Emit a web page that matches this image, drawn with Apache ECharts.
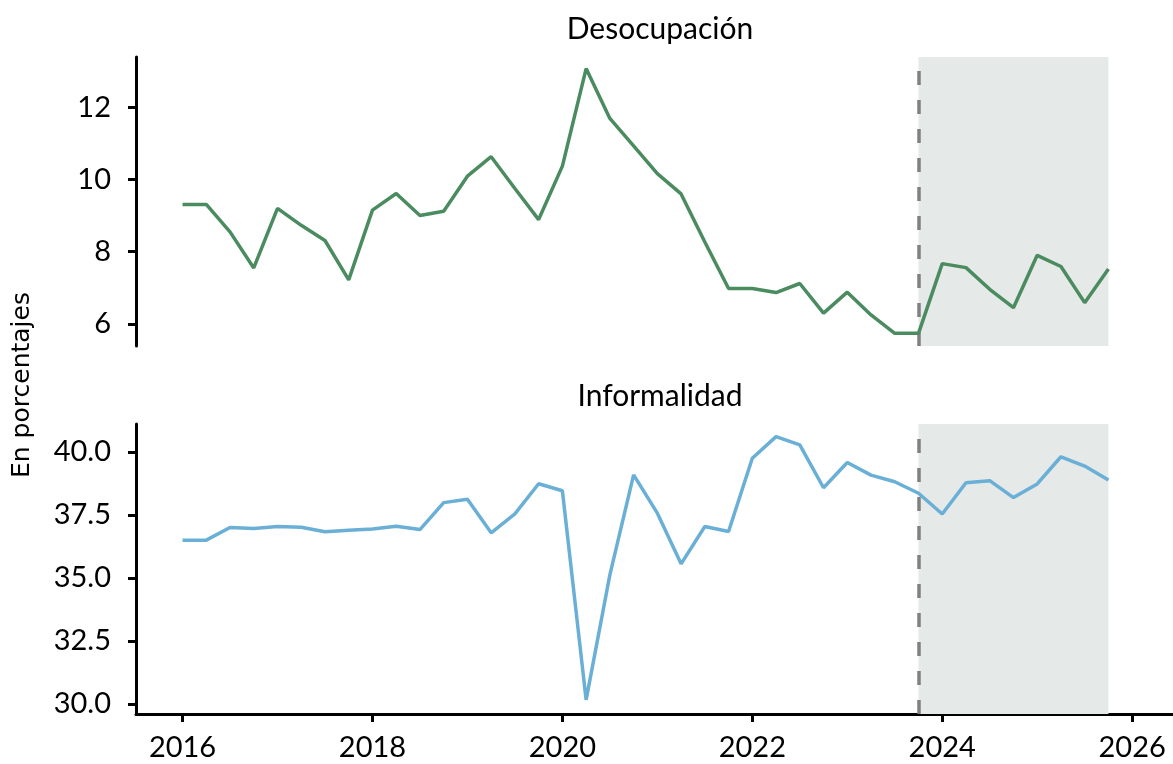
<!DOCTYPE html>
<html>
<head>
<meta charset="utf-8">
<script src="https://cdn.jsdelivr.net/npm/echarts@6.0.0/dist/echarts.min.js"></script>
<style>
html,body{margin:0;padding:0;background:#fff;}
#chart{width:1173px;height:764px;}
</style>
</head>
<body>
<div id="chart"></div>
<script>
// Quarterly periods (decimal years)
const periods = [2016.00,2016.25,2016.50,2016.75,2017.00,2017.25,2017.50,2017.75,
  2018.00,2018.25,2018.50,2018.75,2019.00,2019.25,2019.50,2019.75,
  2020.00,2020.25,2020.50,2020.75,2021.00,2021.25,2021.50,2021.75,
  2022.00,2022.25,2022.50,2022.75,2023.00,2023.25,2023.50,2023.75,
  2024.00,2024.25,2024.50,2024.75,2025.00,2025.25,2025.50,2025.75];

const desocupacion = [9.31,9.31,8.55,7.55,9.20,8.73,8.31,7.22,
  9.15,9.61,9.00,9.12,10.09,10.63,9.75,8.89,
  10.37,13.07,11.69,10.93,10.16,9.60,8.27,6.98,
  6.98,6.87,7.12,6.30,6.88,6.25,5.74,5.74,
  7.67,7.56,6.96,6.45,7.90,7.59,6.59,7.52];

const informalidad = [36.50,36.50,37.00,36.96,37.04,37.01,36.83,36.89,
  36.94,37.05,36.92,37.99,38.12,36.79,37.54,38.74,
  38.46,30.16,35.12,39.09,37.57,35.56,37.04,36.84,
  39.75,40.61,40.28,38.58,39.58,39.08,38.82,38.36,
  37.54,38.78,38.86,38.19,38.73,39.81,39.44,38.89];

const xTicks = [2016,2018,2020,2022,2024,2026];
const yTicksTop = [6,8,10,12];
const yTicksBottom = [30,32.5,35,37.5,40];
const forecastStart = 2023.75;
const forecastEnd = 2025.75;
const titles = ['Desocupación','Informalidad'];
const yAxisTitle = 'En porcentajes';

const FONT = 'Lato';
const chart = echarts.init(document.getElementById('chart'), null, {renderer:'canvas'});

function pairs(vals){ return periods.map((p,i)=>[p, vals[i]]); }

const axisLineStyle = {show:true, lineStyle:{color:'#000', width:3}};
const tickStyle = {show:true, length:8, lineStyle:{color:'#000', width:3}};

function marks(){
  return {
    markArea:{silent:true, itemStyle:{color:'#e5e9e8'}, data:[[{xAxis:forecastStart},{xAxis:forecastEnd}]]},
    markLine:{silent:true, symbol:'none', label:{show:false},
      lineStyle:{color:'#808080', width:3.5, type:[14,15]},
      emphasis:{disabled:true},
      data:[{xAxis:forecastStart}]}
  };
}

const option = {
  animation:false,
  backgroundColor:'#fff',
  grid:[
    {left:136, right:0, top:57, height:289},
    {left:136, right:0, top:424, height:290}
  ],
  xAxis:[
    {gridIndex:0, type:'value', min:2015.51, max:2026.43,
     axisLine:{show:false}, axisTick:{show:false}, axisLabel:{show:false}, splitLine:{show:false}},
    {gridIndex:1, type:'value', min:2015.51, max:2026.43,
     axisLine:axisLineStyle,
     axisTick:Object.assign({customValues:xTicks}, tickStyle),
     axisLabel:{customValues:xTicks, margin:19, fontFamily:FONT, fontSize:29, color:'#000',
       formatter:v=>String(v)},
     splitLine:{show:false}}
  ],
  yAxis:[
    {gridIndex:0, type:'value', min:5.39, max:13.39,
     axisLine:axisLineStyle,
     axisTick:Object.assign({customValues:yTicksTop}, tickStyle),
     axisLabel:{customValues:yTicksTop, margin:25, fontFamily:FONT, fontSize:29, color:'#000',
       formatter:v=>String(v)},
     splitLine:{show:false}},
    {gridIndex:1, type:'value', min:29.60, max:41.11,
     axisLine:axisLineStyle,
     axisTick:Object.assign({customValues:yTicksBottom}, tickStyle),
     axisLabel:{customValues:yTicksBottom, margin:25, fontFamily:FONT, fontSize:29, color:'#000',
       formatter:v=>v.toFixed(1)},
     splitLine:{show:false}}
  ],
  series:[
    Object.assign({type:'line', name:titles[0], xAxisIndex:0, yAxisIndex:0, data:pairs(desocupacion),
      showSymbol:false, symbol:'none', lineStyle:{color:'#4b8b60', width:3.5}, z:5}, marks()),
    Object.assign({type:'line', name:titles[1], xAxisIndex:1, yAxisIndex:1, data:pairs(informalidad),
      showSymbol:false, symbol:'none', lineStyle:{color:'#6aafd6', width:3.5}, z:5}, marks())
  ],
  graphic:[
    {type:'text', x:660, y:29, style:{text:titles[0], fill:'#000', font:'30px '+FONT, textAlign:'center', textVerticalAlign:'middle'}},
    {type:'text', x:660, y:396, style:{text:titles[1], fill:'#000', font:'30px '+FONT, textAlign:'center', textVerticalAlign:'middle'}},
    {type:'text', x:22, y:385, rotation:Math.PI/2, style:{text:yAxisTitle, fill:'#000', font:'25px "DejaVu Sans"', textAlign:'center', textVerticalAlign:'middle'}}
  ]
};
chart.setOption(option);
</script>
</body>
</html>
